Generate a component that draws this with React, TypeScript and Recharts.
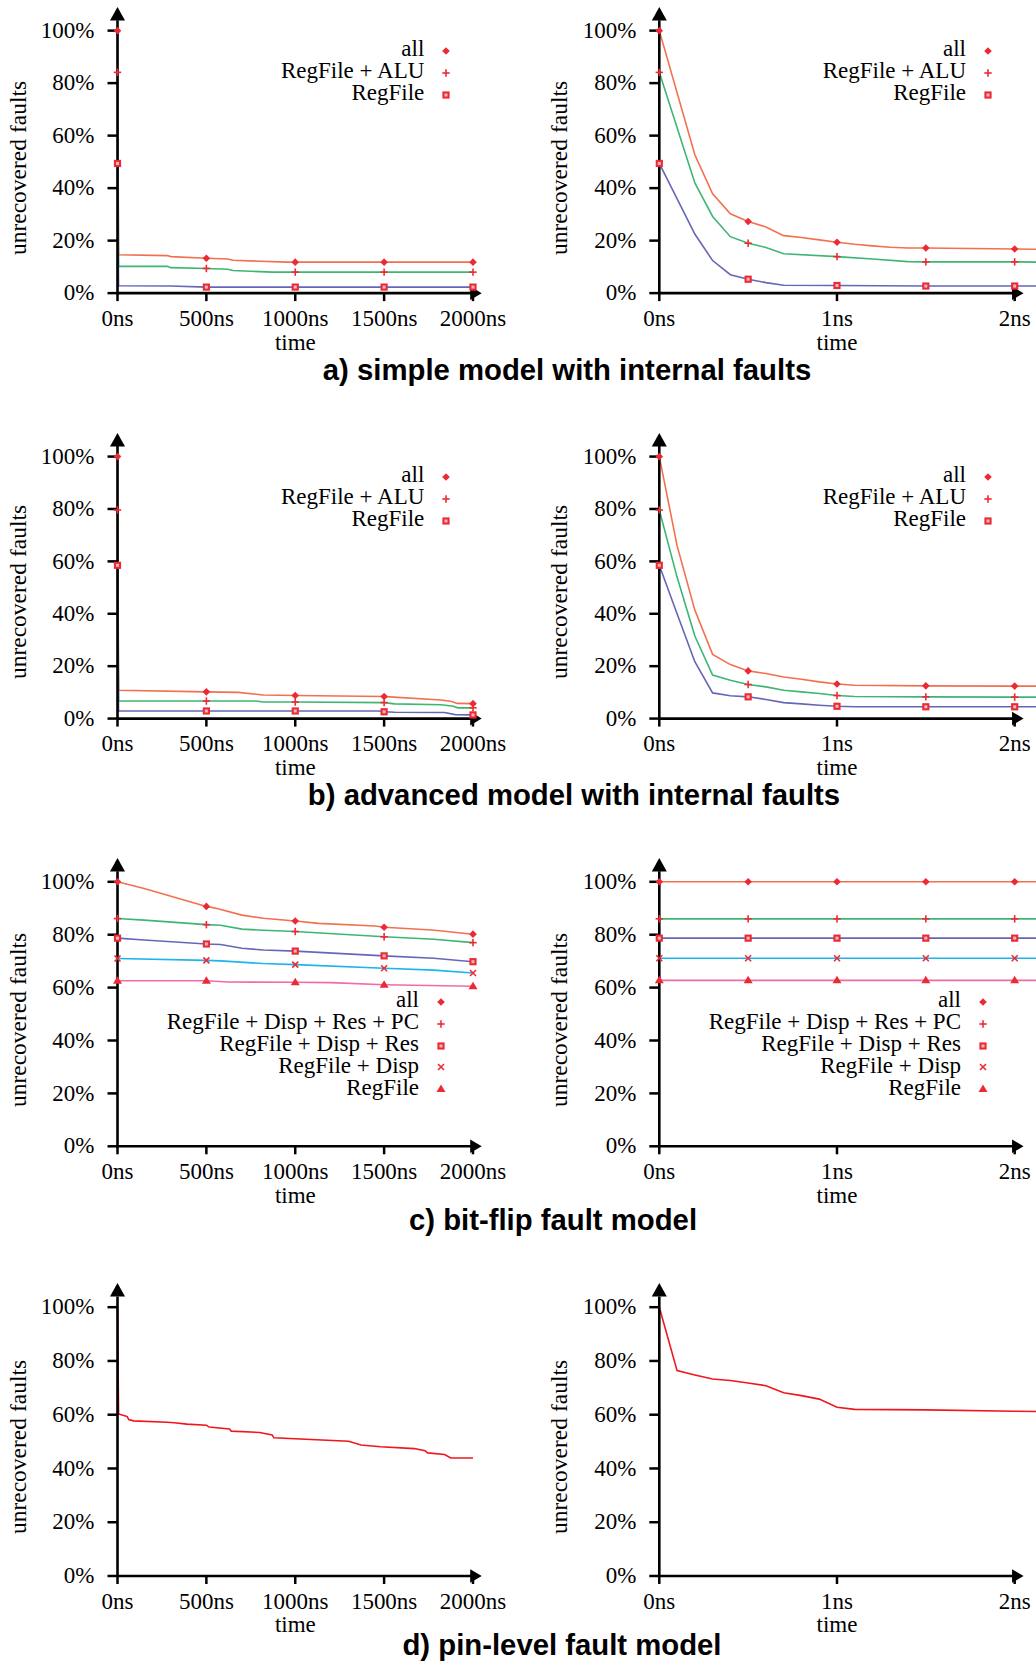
import React from 'react';
import { ComposedChart, Line, Scatter, XAxis, YAxis, ReferenceLine, ReferenceDot } from 'recharts';

const SERIF = '"Liberation Serif", "Times New Roman", serif';
const SANS = '"Liberation Sans", Arial, sans-serif';
const FS = 23;
const LFS = 23;
const MARK = '#ec2a35';

// ---- tick labels / marker positions ----
const yTicks = [0, 20, 40, 60, 80, 100];
const xTicksLong = [0, 500, 1000, 1500, 2000];
const xTicksShort = [0, 1, 2];
const markXLong = [0, 500, 1000, 1500, 2000];
const markXShort = [0, 0.5, 1, 1.5, 2];

// ---- a) simple model with internal faults ----
const aLeftAll: [number, number][] = [[0, 100], [6, 14.6], [280, 14.3], [300, 13.9], [500, 13.3], [620, 13.0], [650, 12.5], [950, 11.8], [1000, 11.8], [1500, 11.8], [2000, 11.8]];
const aLeftAlu: [number, number][] = [[0, 84.1], [6, 10.2], [280, 10.2], [300, 9.7], [500, 9.4], [620, 9.1], [650, 8.6], [870, 8.0], [1000, 8.0], [1500, 8.0], [2000, 8.0]];
const aLeftReg: [number, number][] = [[0, 49.4], [6, 2.8], [300, 2.7], [500, 2.3], [1000, 2.3], [1500, 2.3], [2000, 2.3]];
const aRightAll: [number, number][] = [[0, 100], [0.2, 52.7], [0.3, 37.8], [0.4, 30.2], [0.5, 27.3], [0.6, 25.2], [0.7, 21.9], [0.8, 21.2], [0.9, 20.3], [1.0, 19.4], [1.1, 18.6], [1.2, 18.0], [1.3, 17.5], [1.4, 17.2], [1.5, 17.2], [2.0, 16.8], [2.12, 16.7]];
const aRightAlu: [number, number][] = [[0, 84.1], [0.2, 42.0], [0.3, 29.2], [0.4, 21.5], [0.5, 19.0], [0.6, 17.4], [0.7, 15.0], [1.0, 13.9], [1.2, 13.0], [1.4, 12.0], [1.5, 11.9], [2.0, 11.9], [2.12, 11.8]];
const aRightReg: [number, number][] = [[0, 49.4], [0.2, 22.5], [0.3, 12.4], [0.4, 7.0], [0.5, 5.3], [0.6, 4.0], [0.7, 3.0], [1.0, 2.9], [1.5, 2.7], [2.0, 2.7], [2.12, 2.7]];

// ---- b) advanced model with internal faults ----
const bLeftAll: [number, number][] = [[0, 100], [6, 10.8], [500, 10.2], [680, 10.0], [820, 9.0], [1000, 8.8], [1500, 8.4], [1530, 8.3], [1820, 7.1], [1880, 6.5], [1910, 5.8], [2000, 5.7]];
const bLeftAlu: [number, number][] = [[0, 79.6], [6, 6.7], [500, 6.7], [780, 6.7], [820, 6.3], [1000, 6.3], [1500, 6.1], [1560, 5.6], [1820, 5.3], [1890, 4.7], [1915, 4.1], [2000, 4.1]];
const bLeftReg: [number, number][] = [[0, 58.5], [6, 2.9], [500, 2.9], [1000, 2.9], [1470, 2.9], [1500, 2.6], [1560, 2.4], [1840, 2.3], [1900, 1.5], [2000, 1.4]];
const bRightAll: [number, number][] = [[0, 100], [0.1, 66], [0.2, 41.4], [0.3, 24.5], [0.4, 20.6], [0.5, 18.2], [0.6, 17.2], [0.7, 15.9], [0.8, 15.0], [0.9, 14.0], [1.0, 13.2], [1.1, 12.7], [1.5, 12.5], [2.0, 12.4], [2.12, 12.4]];
const bRightAlu: [number, number][] = [[0, 79.6], [0.1, 54], [0.2, 31.5], [0.3, 16.6], [0.4, 14.6], [0.5, 13.0], [0.6, 12.1], [0.7, 10.8], [0.8, 10.2], [0.9, 9.6], [1.0, 8.8], [1.1, 8.4], [1.5, 8.3], [2.0, 8.2], [2.12, 8.2]];
const bRightReg: [number, number][] = [[0, 58.5], [0.1, 40], [0.2, 21.7], [0.3, 9.8], [0.4, 8.7], [0.5, 8.3], [0.6, 7.3], [0.7, 6.1], [0.8, 5.6], [0.9, 5.1], [1.0, 4.7], [1.1, 4.5], [1.5, 4.5], [2.0, 4.5], [2.12, 4.5]];

// ---- c) bit-flip fault model ----
const cLeftAll: [number, number][] = [[0, 100], [150, 97.5], [500, 90.7], [560, 89.9], [700, 87.4], [820, 86.2], [1000, 85.2], [1130, 84.3], [1450, 83.3], [1500, 82.8], [1550, 82.6], [1770, 81.8], [2000, 80.2]];
const cLeftPc: [number, number][] = [[0, 86.1], [150, 85.5], [500, 83.8], [580, 83.6], [700, 82.1], [820, 81.7], [1000, 81.2], [1500, 79.2], [1780, 78.3], [2000, 77.0]];
const cLeftRes: [number, number][] = [[0, 78.7], [150, 78.0], [500, 76.5], [580, 76.3], [700, 74.9], [820, 74.2], [1000, 73.8], [1500, 72.0], [1780, 71.1], [2000, 69.8]];
const cLeftDisp: [number, number][] = [[0, 71.0], [500, 70.3], [580, 70.1], [820, 69.1], [1000, 68.7], [1500, 67.3], [1780, 66.6], [2000, 65.5]];
const cLeftReg: [number, number][] = [[0, 62.6], [500, 62.6], [620, 62.1], [1000, 62.0], [1200, 61.9], [1500, 61.1], [2000, 60.5]];
const cRightAll: [number, number][] = [[0, 100], [0.5, 100], [1, 100], [1.5, 100], [2, 100], [2.12, 100]];
const cRightPc: [number, number][] = [[0, 86.0], [0.5, 86.0], [1, 86.0], [1.5, 86.0], [2, 86.0], [2.12, 86.0]];
const cRightRes: [number, number][] = [[0, 78.7], [0.5, 78.7], [1, 78.7], [1.5, 78.7], [2, 78.7], [2.12, 78.7]];
const cRightDisp: [number, number][] = [[0, 71.1], [0.5, 71.1], [1, 71.1], [1.5, 71.1], [2, 71.1], [2.12, 71.1]];
const cRightReg: [number, number][] = [[0, 62.75], [0.5, 62.75], [1, 62.75], [1.5, 62.75], [2, 62.75], [2.12, 62.75]];

// ---- d) pin-level fault model ----
const dLeft: [number, number][] = [[0, 100], [6, 60.3], [40, 59.6], [55, 59.3], [63, 58.2], [90, 57.7], [280, 57.2], [320, 57.0], [390, 56.5], [500, 56.1], [515, 55.4], [630, 54.7], [640, 53.9], [800, 53.4], [870, 52.5], [880, 51.4], [1300, 50.1], [1370, 48.7], [1480, 48.1], [1670, 47.4], [1730, 46.6], [1745, 45.8], [1840, 45.2], [1875, 43.9], [2000, 43.9]];
const dRight: [number, number][] = [[0, 100], [0.1, 76.4], [0.2, 74.8], [0.3, 73.3], [0.4, 72.7], [0.5, 71.8], [0.6, 70.8], [0.7, 68.2], [0.8, 67.1], [0.9, 65.8], [1.0, 62.8], [1.1, 62.0], [1.5, 61.8], [2.0, 61.3], [2.12, 61.2]];

// ---- legend labels ----
const legendAB = ['all', 'RegFile + ALU', 'RegFile'];
const legendC = ['all', 'RegFile + Disp + Res + PC', 'RegFile + Disp + Res', 'RegFile + Disp', 'RegFile'];
const markersAB = ['diamond', 'plus', 'box'];
const markersC = ['diamond', 'plus', 'box', 'cross', 'triangle'];

const COL = { all: '#f2704e', g: '#3db673', b: '#6666b8', cyan: '#1cb4ee', pink: '#f26aa6', red: '#f0161c' };

const toPts = (a: [number, number][]) => a.map(([x, y]) => ({ x, y }));

function markerShape(type: string, cx: number, cy: number) {
  switch (type) {
    case 'diamond':
      return <polygon points={`${cx},${cy - 3.8} ${cx + 3.8},${cy} ${cx},${cy + 3.8} ${cx - 3.8},${cy}`} fill={MARK} />;
    case 'plus':
      return (
        <g stroke={MARK} strokeWidth={1.6}>
          <line x1={cx - 3.7} y1={cy} x2={cx + 3.7} y2={cy} />
          <line x1={cx} y1={cy - 3.7} x2={cx} y2={cy + 3.7} />
        </g>
      );
    case 'box':
      return (
        <g>
          <rect x={cx - 3.6} y={cy - 3.6} width={7.2} height={7.2} fill={MARK} />
          <rect x={cx - 1.5} y={cy - 1.5} width={3} height={3} fill="#f7b7b7" />
        </g>
      );
    case 'cross':
      return (
        <g stroke={MARK} strokeWidth={1.6}>
          <line x1={cx - 3} y1={cy - 3} x2={cx + 3} y2={cy + 3} />
          <line x1={cx - 3} y1={cy + 3} x2={cx + 3} y2={cy - 3} />
        </g>
      );
    case 'triangle':
      return <polygon points={`${cx},${cy - 4.5} ${cx + 4.5},${cy + 3} ${cx - 4.5},${cy + 3}`} fill={MARK} />;
    default:
      return <g />;
  }
}

type Series = { data: [number, number][]; color: string; marker: string | null };

type PanelProps = {
  side: 'L' | 'R';
  plotTop: number;
  span: number;
  series: Series[];
};

const YMAX = 109;

function Panel({ side, plotTop, span, series }: PanelProps) {
  const isLeft = side === 'L';
  const chartLeft = isLeft ? 0 : 518;
  const plotX = isLeft ? 117.5 : 659.3;
  const plotRight = isLeft ? 481.7 : 1036;
  const xMax = isLeft ? 2049 : 2.12;
  const arrowX = isLeft ? 2049 : 2.05;
  const axisEnd = isLeft ? 1990 : 1.99;
  const xTicks = isLeft ? xTicksLong : xTicksShort;
  const markXs = isLeft ? markXLong : markXShort;
  const W = 518;
  const YW = 60;
  const mTop = 6;
  const plotH = span * (YMAX / 100);
  const H = mTop + plotH + 40;
  const margin = { top: mTop, bottom: 0, left: plotX - chartLeft - YW, right: chartLeft + W - plotRight };
  const tickStyle = { fontSize: FS, fontFamily: SERIF, fill: '#000' };
  const yTickStyle = { fontSize: FS, fontFamily: SERIF, fill: '#000', dy: -1 };
  const tickLine = { stroke: '#000', strokeWidth: 2.5 };
  const upArrow = (p: any) => (
    <polygon points={`${p.cx},${p.cy} ${p.cx + 7.5},${p.cy + 13.4} ${p.cx - 7.5},${p.cy + 13.4}`} fill="#000" />
  );
  const rightArrow = (p: any) => (
    <polygon points={`${p.cx},${p.cy} ${p.cx - 11.5},${p.cy - 6.8} ${p.cx - 11.5},${p.cy + 6.8}`} fill="#000" />
  );
  return (
    <div style={{ position: 'absolute', left: chartLeft, top: plotTop - mTop }}>
      <ComposedChart width={W} height={H} margin={margin}>
        <XAxis
          type="number"
          dataKey="x"
          domain={[0, xMax]}
          ticks={xTicks}
          interval={0}
          tickFormatter={(v: number) => `${v}ns`}
          axisLine={false}
          tickLine={tickLine}
          tickSize={8}
          tickMargin={8.5}
          tick={tickStyle}
          height={40}
        />
        <YAxis
          type="number"
          domain={[0, YMAX]}
          ticks={yTicks}
          interval={0}
          tickFormatter={(v: number) => `${v}%`}
          width={YW}
          axisLine={false}
          tickLine={tickLine}
          tickSize={10}
          tickMargin={13}
          tick={yTickStyle}
        />
        {series.map((s, i) => (
          <Line
            key={`l${i}`}
            data={toPts(s.data)}
            dataKey="y"
            type="linear"
            stroke={s.color}
            strokeWidth={1.6}
            dot={false}
            activeDot={false}
            isAnimationActive={false}
          />
        ))}
        <ReferenceLine segment={[{ x: 0, y: 0 }, { x: 0, y: 104 }]} stroke="#000" strokeWidth={2.6} />
        <ReferenceLine segment={[{ x: 0, y: 0 }, { x: axisEnd, y: 0 }]} stroke="#000" strokeWidth={2.6} />
        <ReferenceDot x={0} y={YMAX} r={1} shape={upArrow} ifOverflow="visible" />
        <ReferenceDot x={arrowX} y={0} r={1} shape={rightArrow} ifOverflow="visible" />
        {series.map((s, i) =>
          s.marker ? (
            <Scatter
              key={`s${i}`}
              data={toPts(s.data).filter((p) => markXs.some((m) => Math.abs(m - p.x) < 1e-9))}
              dataKey="y"
              shape={(p: any) => markerShape(s.marker as string, p.cx, p.cy)}
              isAnimationActive={false}
            />
          ) : null
        )}
      </ComposedChart>
    </div>
  );
}

function LegendBox({ labels, markers, textRight, markX, ys }: { labels: string[]; markers: string[]; textRight: number; markX: number; ys: number[] }) {
  return (
    <>
      {labels.map((lab, i) => (
        <React.Fragment key={i}>
          <div
            style={{
              position: 'absolute',
              right: 1036 - textRight,
              top: ys[i] - 11.8,
              height: 20,
              lineHeight: '20px',
              fontSize: LFS,
              fontFamily: SERIF,
              whiteSpace: 'nowrap',
              color: '#000',
            }}
          >
            {lab}
          </div>
          <svg style={{ position: 'absolute', left: markX - 7, top: ys[i] - 7 }} width={14} height={14}>
            {markerShape(markers[i], 7, 7)}
          </svg>
        </React.Fragment>
      ))}
    </>
  );
}

function YLabel({ cx, cy }: { cx: number; cy: number }) {
  return (
    <div
      style={{
        position: 'absolute',
        left: cx - 150,
        top: cy - 10,
        width: 300,
        height: 20,
        lineHeight: '20px',
        textAlign: 'center',
        fontSize: 23.5,
        fontFamily: SERIF,
        transform: 'rotate(-90deg)',
        whiteSpace: 'nowrap',
      }}
    >
      unrecovered faults
    </div>
  );
}

function TimeLabel({ cx, baseline }: { cx: number; baseline: number }) {
  return (
    <div
      style={{
        position: 'absolute',
        left: cx - 30,
        top: baseline - 16.8,
        width: 60,
        height: 18,
        lineHeight: '18px',
        textAlign: 'center',
        fontSize: FS,
        fontFamily: SERIF,
      }}
    >
      time
    </div>
  );
}

function Title({ cx, cy, text }: { cx: number; cy: number; text: string }) {
  return (
    <div
      style={{
        position: 'absolute',
        left: cx - 400,
        top: cy - 18.3,
        width: 800,
        lineHeight: '34px',
        textAlign: 'center',
        fontSize: 29.3,
        fontWeight: 'bold',
        fontFamily: SANS,
        whiteSpace: 'nowrap',
      }}
    >
      {text}
    </div>
  );
}

const rows = [
  { plotTop: 7.4, span: 262.5, zero: 293.5, ylab: 167.5 },
  { plotTop: 432.7, span: 262, zero: 718.3, ylab: 591.7 },
  { plotTop: 858.4, span: 264.5, zero: 1146.7, ylab: 1020 },
  { plotTop: 1283, span: 268.8, zero: 1576, ylab: 1446.5 },
];

const legendYsA = [50.7, 72.7, 94.7];
const legendYsB = [476.7, 498.7, 520.7];
const legendYsC = [1001.7, 1023.6, 1045.5, 1067.4, 1089.3];

export default function App() {
  const sA_L: Series[] = [
    { data: aLeftAll, color: COL.all, marker: 'diamond' },
    { data: aLeftAlu, color: COL.g, marker: 'plus' },
    { data: aLeftReg, color: COL.b, marker: 'box' },
  ];
  const sA_R: Series[] = [
    { data: aRightAll, color: COL.all, marker: 'diamond' },
    { data: aRightAlu, color: COL.g, marker: 'plus' },
    { data: aRightReg, color: COL.b, marker: 'box' },
  ];
  const sB_L: Series[] = [
    { data: bLeftAll, color: COL.all, marker: 'diamond' },
    { data: bLeftAlu, color: COL.g, marker: 'plus' },
    { data: bLeftReg, color: COL.b, marker: 'box' },
  ];
  const sB_R: Series[] = [
    { data: bRightAll, color: COL.all, marker: 'diamond' },
    { data: bRightAlu, color: COL.g, marker: 'plus' },
    { data: bRightReg, color: COL.b, marker: 'box' },
  ];
  const sC_L: Series[] = [
    { data: cLeftAll, color: COL.all, marker: 'diamond' },
    { data: cLeftPc, color: COL.g, marker: 'plus' },
    { data: cLeftRes, color: COL.b, marker: 'box' },
    { data: cLeftDisp, color: COL.cyan, marker: 'cross' },
    { data: cLeftReg, color: COL.pink, marker: 'triangle' },
  ];
  const sC_R: Series[] = [
    { data: cRightAll, color: COL.all, marker: 'diamond' },
    { data: cRightPc, color: COL.g, marker: 'plus' },
    { data: cRightRes, color: COL.b, marker: 'box' },
    { data: cRightDisp, color: COL.cyan, marker: 'cross' },
    { data: cRightReg, color: COL.pink, marker: 'triangle' },
  ];
  const sD_L: Series[] = [{ data: dLeft, color: COL.red, marker: null }];
  const sD_R: Series[] = [{ data: dRight, color: COL.red, marker: null }];
  const panels = [
    [sA_L, sA_R],
    [sB_L, sB_R],
    [sC_L, sC_R],
    [sD_L, sD_R],
  ];
  return (
    <div style={{ position: 'absolute', left: 0, top: 0, width: 1036, height: 1663, background: '#fff', overflow: 'hidden' }}>
      {rows.map((r, i) => (
        <React.Fragment key={i}>
          <Panel side="L" plotTop={r.plotTop} span={r.span} series={panels[i][0]} />
          <Panel side="R" plotTop={r.plotTop} span={r.span} series={panels[i][1]} />
          <YLabel cx={18} cy={r.ylab} />
          <YLabel cx={558.5} cy={r.ylab} />
          <TimeLabel cx={295.4} baseline={r.zero + 57} />
          <TimeLabel cx={837} baseline={r.zero + 57} />
        </React.Fragment>
      ))}
      <LegendBox labels={legendAB} markers={markersAB} textRight={424.3} markX={446} ys={legendYsA} />
      <LegendBox labels={legendAB} markers={markersAB} textRight={966} markX={987.7} ys={legendYsA} />
      <LegendBox labels={legendAB} markers={markersAB} textRight={424.3} markX={446} ys={legendYsB} />
      <LegendBox labels={legendAB} markers={markersAB} textRight={966} markX={987.7} ys={legendYsB} />
      <LegendBox labels={legendC} markers={markersC} textRight={419} markX={441} ys={legendYsC} />
      <LegendBox labels={legendC} markers={markersC} textRight={961} markX={983.3} ys={legendYsC} />
      <Title cx={567} cy={371.5} text="a) simple model with internal faults" />
      <Title cx={574} cy={796.5} text="b) advanced model with internal faults" />
      <Title cx={553} cy={1221} text="c) bit-flip fault model" />
      <Title cx={562} cy={1646.5} text="d) pin-level fault model" />
    </div>
  );
}
